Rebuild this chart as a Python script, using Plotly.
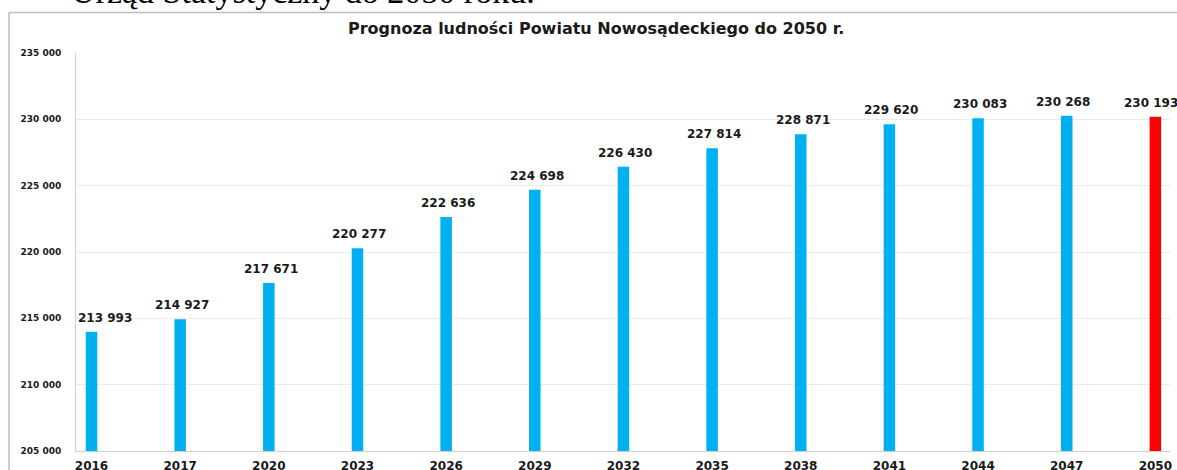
import plotly.graph_objects as go

years = ["2016", "2017", "2020", "2023", "2026", "2029", "2032", "2035", "2038", "2041", "2044", "2047", "2050"]
population = [213993, 214927, 217671, 220277, 222636, 224698, 226430, 227814, 228871, 229620, 230083, 230268, 230193]
bar_colors = ["#00B0F0"] * 12 + ["#FF0000"]
y_ticks = [205000, 210000, 215000, 220000, 225000, 230000, 235000]
y_ticktext = ["205 000", "210 000", "215 000", "220 000", "225 000", "230 000", "235 000"]
labels = [f"{v:,}".replace(",", " ") for v in population]
title = "Prognoza ludności Powiatu Nowosądeckiego do 2050 r."
header_text = "Urząd Statystyczny do 2050 roku."

W, H = 1177, 470
L, R, T, B = 75.5, 7, 53, 19
pw = W - L - R
ph = H - T - B

fig = go.Figure()
fig.add_trace(go.Bar(
    x=years, y=population,
    marker=dict(color=bar_colors, line=dict(width=0)),
    width=[0.13] * len(years),
    hoverinfo="skip",
))

# data labels above bars (edge labels nudged as in the source)
n = len(population)
for i, (val, lab) in enumerate(zip(population, labels)):
    if i == 0:
        dx = 13
    elif i >= n - 2:
        dx = -4
    else:
        dx = 2
    fig.add_annotation(x=i, y=val, xref="x", yref="y", text=lab, showarrow=False,
                       yanchor="bottom", xanchor="center",
                       xshift=dx, yshift=5,
                       font=dict(family="DejaVu Sans", size=12, color="#1a1a1a", weight="bold"))

fig.update_layout(
    width=W, height=H,
    margin=dict(l=L, r=R, t=T, b=B, autoexpand=False),
    paper_bgcolor="white", plot_bgcolor="white",
    showlegend=False,
    bargap=0.87,
    font=dict(family="DejaVu Sans", color="#1a1a1a"),
    xaxis=dict(
        type="category", range=[-0.175, 12.165], automargin=False,
        showgrid=False, showline=True, linecolor="#d0d0d0", linewidth=1,
        ticks="", ticklabelstandoff=4,
        tickfont=dict(family="DejaVu Sans", size=12, color="#1a1a1a", weight="bold"),
        fixedrange=True,
    ),
    yaxis=dict(
        range=[205000, 235000], automargin=False,
        tickvals=y_ticks, ticktext=y_ticktext,
        showgrid=True, gridcolor="#ebebeb", gridwidth=1,
        showline=True, linecolor="#d0d0d0", linewidth=1,
        ticks="", ticklabelstandoff=12,
        tickfont=dict(family="DejaVu Sans", size=9, color="#1a1a1a", weight="bold"),
        zeroline=False, fixedrange=True,
    ),
)

# outer chart frame (left and top border)
fig.add_shape(type="line", xref="paper", yref="paper",
              x0=(8.5 - L) / pw, x1=(W + 5 - L) / pw,
              y0=1 + (T - 12.5) / ph, y1=1 + (T - 12.5) / ph,
              line=dict(color="#bdbdbd", width=1.5))
fig.add_shape(type="line", xref="paper", yref="paper",
              x0=(8.5 - L) / pw, x1=(8.5 - L) / pw,
              y0=1 + (T - 12.5) / ph, y1=-(B + 5) / ph,
              line=dict(color="#bdbdbd", width=1.5))

# chart title
fig.add_annotation(text=title, xref="paper", yref="paper",
                   x=(596 - L) / pw, y=1 + (T - 29) / ph,
                   xanchor="center", yanchor="middle", showarrow=False,
                   font=dict(family="DejaVu Sans", size=16, color="#1a1a1a", weight="bold"))

# clipped header text from surrounding document
fig.add_annotation(text=header_text, xref="paper", yref="paper",
                   x=(537 - L) / pw, y=1 + (T - 12) / ph,
                   xanchor="right", yanchor="bottom", showarrow=False,
                   font=dict(family="Liberation Serif", size=34, color="#000000"))

fig.write_html(
    "out.html",
    config={"displayModeBar": False, "staticPlot": True},
    post_script="document.body.style.margin='0';document.body.style.overflow='hidden';",
)
